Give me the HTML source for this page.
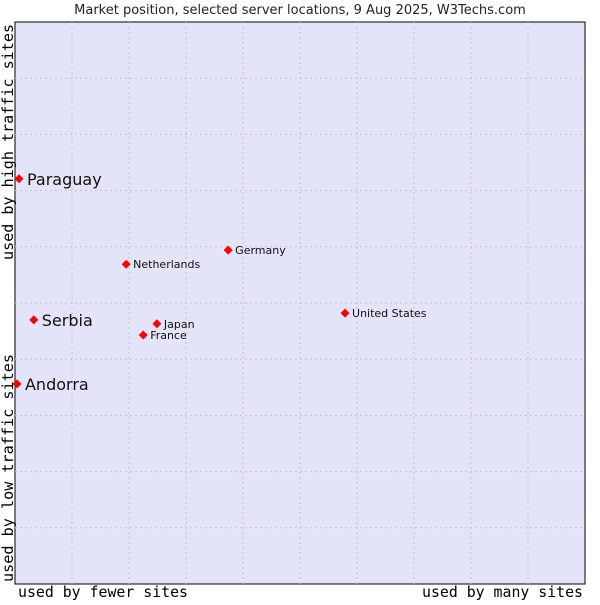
<!DOCTYPE html>
<html><head><meta charset="utf-8"><style>
body{margin:0;background:#fff;width:600px;height:600px;overflow:hidden}
svg text{font-family:"DejaVu Sans","Liberation Sans",sans-serif}
.mono{font-family:"DejaVu Sans Mono","Liberation Mono",monospace}
</style></head><body>
<svg id="chart" width="600" height="600" xmlns="http://www.w3.org/2000/svg">
<text x="300" y="14" text-anchor="middle" font-size="13" fill="#222">Market position, selected server locations, 9 Aug 2025, W3Techs.com</text>
<rect x="15" y="22" width="570" height="562" fill="#e4e4f8" stroke="#000" stroke-width="1"/>
<g id="grid"></g>
<g id="points"></g>
<text class="mono" x="18" y="597" font-size="15" textLength="170" lengthAdjust="spacingAndGlyphs" fill="#000">used by fewer sites</text>
<text class="mono" x="422" y="597" font-size="15" textLength="161" lengthAdjust="spacingAndGlyphs" fill="#000">used by many sites</text>
<text class="mono" transform="translate(13,260) rotate(-90)" font-size="15" textLength="236" lengthAdjust="spacingAndGlyphs" fill="#000">used by high traffic sites</text>
<text class="mono" transform="translate(13,582) rotate(-90)" font-size="15" textLength="228" lengthAdjust="spacingAndGlyphs" fill="#000">used by low traffic sites</text>
</svg>
<script>
const names=["Paraguay","Serbia","Andorra","Netherlands","Germany","United States","Japan","France"];
const xVals=[0.7,3.3,0.35,19.5,37.4,57.9,24.9,22.5];
const yVals=[72.1,47.0,35.6,56.9,59.4,48.2,46.3,44.3];
const big=[true,true,true,false,false,false,false,false];
const ns="http://www.w3.org/2000/svg";
const L=15,T=22,W=570,H=562;
const sx=v=>L+v/100*W, sy=v=>T+H-v/100*H;
const grid=document.getElementById('grid'), pts=document.getElementById('points');
for(let i=1;i<10;i++){
 const v=document.createElementNS(ns,'line');
 v.setAttribute('x1',sx(i*10));v.setAttribute('x2',sx(i*10));v.setAttribute('y1',T);v.setAttribute('y2',T+H);
 v.setAttribute('stroke','#c4c4c4');v.setAttribute('stroke-dasharray','2,3');
 
 
 grid.appendChild(v);
 const h=document.createElementNS(ns,'line');
 h.setAttribute('y1',sy(i*10));h.setAttribute('y2',sy(i*10));h.setAttribute('x1',L);h.setAttribute('x2',L+W);
 h.setAttribute('stroke','#c4c4c4');h.setAttribute('stroke-dasharray','2,3');
 
 
 grid.appendChild(h);
}
names.forEach((n,i)=>{
 const x=sx(xVals[i]),y=sy(yVals[i]);
 const m=document.createElementNS(ns,'path');
 m.setAttribute('d',`M${x},${y-4.5}L${x+4.5},${y}L${x},${y+4.5}L${x-4.5},${y}Z`);
 m.setAttribute('fill','#f00');
 
 
 pts.appendChild(m);
 const t=document.createElementNS(ns,'text');
 t.setAttribute('x',x+(big[i]?8:7));t.setAttribute('y',y+(big[i]?6:4));
 t.setAttribute('font-size',big[i]?16:11);t.setAttribute('fill','#111');
 t.textContent=n;
 
 
 pts.appendChild(t);
});
</script>
</body></html>
